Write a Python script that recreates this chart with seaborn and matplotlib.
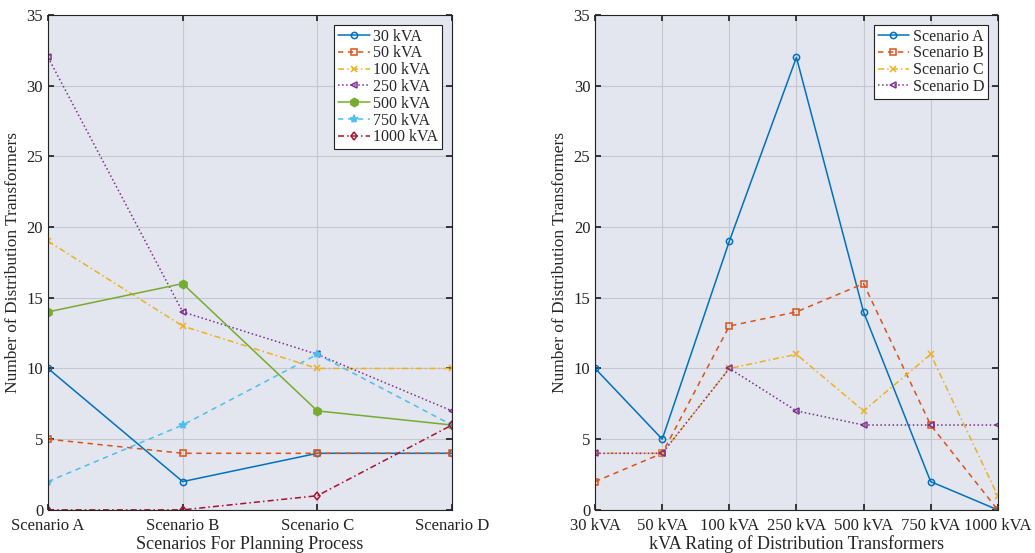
import pandas as pd
import matplotlib
matplotlib.use('Agg')
import matplotlib.pyplot as plt
import seaborn as sns

# Data
scenarios = ['Scenario A', 'Scenario B', 'Scenario C', 'Scenario D']
ratings = ['30 kVA', '50 kVA', '100 kVA', '250 kVA', '500 kVA', '750 kVA', '1000 kVA']

kva_30 = [10, 2, 4, 4]
kva_50 = [5, 4, 4, 4]
kva_100 = [19, 13, 10, 10]
kva_250 = [32, 14, 11, 7]
kva_500 = [14, 16, 7, 6]
kva_750 = [2, 6, 11, 6]
kva_1000 = [0, 0, 1, 6]

rating_series = [kva_30, kva_50, kva_100, kva_250, kva_500, kva_750, kva_1000]

# Right panel: counts per scenario across ratings (transpose of the above)
scenario_series = [[s[i] for s in rating_series] for i in range(len(scenarios))]

colors = ['#0072BD', '#D95319', '#EDB120', '#7E2F8E', '#77AC30', '#4DBEEE', '#A2142F']
styles = ['-', (0, (3.5, 3)), (0, (4, 2, 1, 2)), ':', '-', (0, (3.5, 3)), (0, (4, 2, 1, 2))]
markers = ['o', 's', 'x', '<', 'h', '*', 'd']
filled = [False, False, False, False, True, True, False]

sns.set_theme(style='ticks')
plt.rcParams['font.family'] = ['Liberation Serif', 'DejaVu Serif']
plt.rcParams['font.size'] = 12

fig = plt.figure(figsize=(10.35, 5.53), dpi=100)
ax1 = fig.add_axes([0.0464, 0.078, 0.3903, 0.895])
ax2 = fig.add_axes([0.575, 0.078, 0.389, 0.895])


def draw(ax, xlabels, series, names, n):
    x = list(range(len(xlabels)))
    for i in range(n):
        df = pd.DataFrame({'x': x, 'y': series[i]})
        mfc = colors[i] if filled[i] else 'none'
        ms = 6 if markers[i] in ('*', 'h') else 4.5
        sns.lineplot(data=df, x='x', y='y', ax=ax, color=colors[i],
                     linestyle=styles[i], linewidth=1.1, marker=markers[i],
                     markersize=ms, markerfacecolor=mfc,
                     markeredgecolor=colors[i], markeredgewidth=1.1,
                     label=names[i])
    ax.set_facecolor('#E3E5EF')
    ax.grid(True, color='#C4C6D0', linewidth=0.8)
    ax.set_axisbelow(True)
    ax.set_xlim(0, len(xlabels) - 1)
    ax.set_ylim(0, 35)
    ax.set_xticks(x)
    ax.set_xticklabels(xlabels)
    ax.set_yticks(range(0, 36, 5))
    ax.tick_params(direction='in', top=True, right=True, length=4,
                   labelsize=12, colors='#222222')
    ax.tick_params(axis='x', pad=6)
    for sp in ax.spines.values():
        sp.set_color('#222222')
        sp.set_linewidth(0.8)
    ax.set_ylabel('Number of Distribution Transformers', fontsize=12.5)
    leg = ax.legend(loc='upper right', fontsize=11.5, frameon=True, fancybox=False,
                    framealpha=1, edgecolor='#222222', handlelength=2.0,
                    handletextpad=0.2, borderpad=0.25, labelspacing=0.05,
                    borderaxespad=0.6)
    leg.get_frame().set_linewidth(0.8)


draw(ax1, scenarios, rating_series, ratings, 7)
ax1.set_xlabel('Scenarios For Planning Process', fontsize=13, labelpad=1)

draw(ax2, ratings, scenario_series, scenarios, 4)
ax2.set_xlabel('kVA Rating of Distribution Transformers', fontsize=13, labelpad=1)

fig.savefig('out.png', dpi=100)
